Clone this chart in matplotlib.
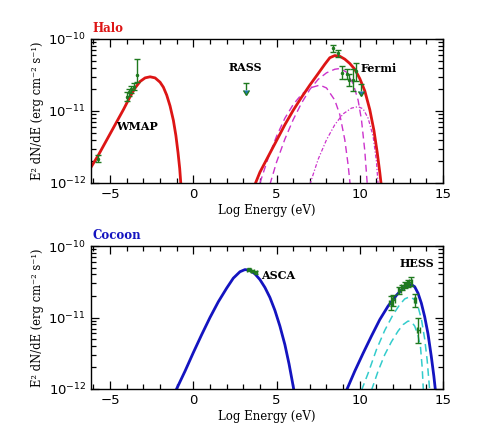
import numpy as np
import matplotlib
matplotlib.use("Agg")
import matplotlib.pyplot as plt
from matplotlib.ticker import MultipleLocator, FixedLocator, LogFormatterMathtext, NullFormatter

# ---------------- data (log10 of E^2 dN/dE) ----------------
# Halo: synchrotron model
halo_sync_x = [-6.2, -5.7, -5.2, -4.7, -4.2, -3.8, -3.5, -3.2, -2.9, -2.6, -2.3, -2.0,
               -1.8, -1.6, -1.4, -1.2, -1.05, -0.92, -0.82, -0.74]
halo_sync_logy = [-11.80, -11.61, -11.40, -11.19, -10.98, -10.80, -10.68, -10.59, -10.54,
                  -10.525, -10.54, -10.60, -10.67, -10.78, -10.93, -11.13, -11.34, -11.58,
                  -11.80, -12.05]
# Halo: inverse Compton total
halo_ic_x = [3.65, 4.0, 4.5, 5.0, 5.5, 6.0, 6.5, 7.0, 7.5, 7.9, 8.2, 8.5, 8.8, 9.1, 9.4,
             9.7, 10.0, 10.3, 10.6, 10.85, 11.05, 11.2, 11.3]
halo_ic_logy = [-12.05, -11.85, -11.63, -11.41, -11.19, -10.99, -10.81, -10.64, -10.48,
                -10.35, -10.26, -10.23, -10.24, -10.28, -10.34, -10.42, -10.55, -10.72,
                -10.98, -11.27, -11.58, -11.85, -12.05]
# Halo: IC components
halo_c1_x = [4.0, 4.5, 5.0, 5.5, 6.0, 6.5, 7.0, 7.6, 8.0, 8.5, 8.8, 9.1, 9.3, 9.42]
halo_c1_logy = [-12.0, -11.65, -11.35, -11.10, -10.91, -10.77, -10.68, -10.64, -10.68,
                -10.85, -11.05, -11.40, -11.75, -12.02]
halo_c2_x = [4.6, 5.0, 5.5, 6.0, 6.5, 7.0, 7.5, 8.0, 8.5, 8.8, 9.2, 9.6, 9.9, 10.1, 10.3, 10.45]
halo_c2_logy = [-12.02, -11.71, -11.39, -11.12, -10.89, -10.70, -10.56, -10.47, -10.42,
                -10.41, -10.46, -10.62, -10.85, -11.12, -11.55, -12.02]
halo_c3_x = [7.0, 7.5, 8.0, 8.5, 9.0, 9.5, 9.9, 10.2, 10.5, 10.8, 11.0, 11.1]
halo_c3_logy = [-12.02, -11.67, -11.40, -11.19, -11.04, -10.96, -10.94, -10.97, -11.10,
                -11.35, -11.70, -12.02]

# Halo data
wmap_x = [-5.74, -3.99, -3.85, -3.73, -3.59, -3.39]
wmap_logy = [-11.66, -10.80, -10.74, -10.70, -10.66, -10.50]
wmap_lo = [-11.71, -10.86, -10.79, -10.75, -10.71, -10.60]
wmap_hi = [-11.61, -10.74, -10.69, -10.65, -10.61, -10.28]
rass_x = [3.17]
rass_logy = [-10.61]
fermi_x = [8.41, 8.67, 8.95, 9.21, 9.37, 9.57, 9.80]
fermi_logy = [-10.13, -10.20, -10.47, -10.48, -10.57, -10.57, -10.45]
fermi_lo = [-10.18, -10.25, -10.56, -10.55, -10.65, -10.72, -10.59]
fermi_hi = [-10.08, -10.15, -10.38, -10.41, -10.49, -10.42, -10.34]
fermi_ul_x = [10.07]
fermi_ul_logy = [-10.63]

# Cocoon: synchrotron model
coc_sync_x = [-1.05, -0.5, 0.0, 0.5, 1.0, 1.5, 2.0, 2.4, 2.8, 3.1, 3.4, 3.7, 4.0, 4.3,
              4.6, 4.9, 5.2, 5.5, 5.75, 5.95, 6.05]
coc_sync_logy = [-12.02, -11.75, -11.49, -11.24, -11.00, -10.78, -10.59, -10.45, -10.36,
                 -10.33, -10.34, -10.39, -10.47, -10.58, -10.72, -10.90, -11.12, -11.38,
                 -11.65, -11.90, -12.03]
# Cocoon: IC total
coc_ic_x = [9.2, 9.7, 10.2, 10.7, 11.2, 11.7, 12.2, 12.6, 12.9, 13.1, 13.3, 13.5, 13.7,
            13.9, 14.1, 14.3, 14.45, 14.55]
coc_ic_logy = [-12.02, -11.75, -11.50, -11.26, -11.03, -10.84, -10.69, -10.59, -10.545,
               -10.54, -10.57, -10.66, -10.80, -10.99, -11.23, -11.55, -11.82, -12.03]
coc_c1_x = [10.1, 10.5, 11.0, 11.5, 12.0, 12.4, 12.7, 13.0, 13.3, 13.5, 13.7, 13.9, 14.05, 14.2]
coc_c1_logy = [-12.02, -11.78, -11.45, -11.18, -10.96, -10.82, -10.74, -10.71, -10.75,
               -10.85, -11.02, -11.30, -11.60, -12.02]
coc_c2_x = [10.7, 11.1, 11.5, 11.9, 12.3, 12.6, 12.9, 13.1, 13.3, 13.5, 13.65, 13.75, 13.82]
coc_c2_logy = [-12.02, -11.75, -11.52, -11.34, -11.19, -11.10, -11.05, -11.06, -11.12,
               -11.25, -11.42, -11.70, -12.02]

# Cocoon data
asca_x = [3.35, 3.55, 3.75]
asca_logy = [-10.33, -10.35, -10.37]
hess_x = [11.85, 12.02, 12.37, 12.55, 12.72, 12.90, 13.05, 13.31, 13.52]
hess_logy = [-10.80, -10.76, -10.62, -10.58, -10.55, -10.52, -10.50, -10.76, -11.18]
hess_err = [0.10, 0.08, 0.05, 0.04, 0.04, 0.05, 0.06, 0.09, 0.17]

# axis ticks
y_major = [1e-12, 1e-11, 1e-10]

# ---------------- style ----------------
RED = "#dd1515"
BLUE = "#1414c0"
MAG = "#cc33cc"
CYAN = "#33cccc"
GREEN = "#1f7a1f"
SERIF = ["DejaVu Serif"]

def p(v):
    return np.power(10.0, np.asarray(v, dtype=float))

y_minor = [m * d for d in y_major[:-1] for m in range(2, 10)]

fig = plt.figure(figsize=(4.78, 4.45), dpi=100)
ax1 = fig.add_axes([91/478, 1-183/445, (443-91)/478, (183-39)/445])
ax2 = fig.add_axes([91/478, 1-389/445, (443-91)/478, (389-246)/445])

def style(ax, title, tcolor):
    ax.set_yscale("log")
    ax.set_xlim(-6.15, 15)
    ax.set_ylim(1e-12, 1e-10)
    ax.xaxis.set_major_locator(FixedLocator([-5, 0, 5, 10, 15]))
    ax.xaxis.set_minor_locator(FixedLocator(list(range(-6, 16))))
    ax.yaxis.set_major_locator(FixedLocator(y_major))
    ax.yaxis.set_minor_locator(FixedLocator(y_minor))
    ax.yaxis.set_major_formatter(LogFormatterMathtext())
    ax.yaxis.set_minor_formatter(NullFormatter())
    ax.tick_params(which="both", direction="in", top=True, right=True, labelsize=9.5, width=0.9)
    ax.tick_params(which="major", length=6)
    ax.tick_params(which="minor", length=3.5)
    for s in ax.spines.values():
        s.set_linewidth(1.0)
    ax.set_xlabel("Log Energy (eV)", family=SERIF, fontsize=8.5, labelpad=2)
    ax.set_ylabel("E\u00b2 dN/dE (erg cm\u207b\u00b2 s\u207b\u00b9)", family=SERIF,
                  fontsize=8.3, labelpad=3)
    ax.text(0.005, 1.03, title, transform=ax.transAxes, color=tcolor, family=SERIF,
            fontsize=8.5, fontweight="bold", ha="left", va="bottom")

for ax, t, c in [(ax1, "Halo", RED), (ax2, "Cocoon", BLUE)]:
    style(ax, t, c)

# ---- Halo ----
ax1.plot(halo_sync_x, p(halo_sync_logy), color=RED, lw=2.0, solid_capstyle="butt")
ax1.plot(halo_c1_x, p(halo_c1_logy), color=MAG, lw=1.0, ls=(0, (5, 3)))
ax1.plot(halo_c2_x, p(halo_c2_logy), color=MAG, lw=1.0, ls=(0, (5, 3)))
ax1.plot(halo_c3_x, p(halo_c3_logy), color=MAG, lw=0.9, ls=(0, (3, 1.5, 1, 1.5)))
ax1.plot(halo_ic_x, p(halo_ic_logy), color=RED, lw=2.0, solid_capstyle="butt")

wy = p(wmap_logy)
ax1.errorbar(wmap_x, wy, yerr=[wy - p(wmap_lo), p(wmap_hi) - wy], fmt="none",
             ecolor=GREEN, elinewidth=1.0, capsize=2)
ax1.plot(wmap_x, wy, ls="none", marker="o", ms=1.5, color=GREEN)
fy = p(fermi_logy)
ax1.errorbar(fermi_x, fy, yerr=[fy - p(fermi_lo), p(fermi_hi) - fy], fmt="none",
             ecolor=GREEN, elinewidth=1.0, capsize=2)
ax1.plot(fermi_x, fy, ls="none", marker="o", ms=1.5, color=GREEN)
ry = p(rass_logy)
ax1.errorbar(rass_x, ry, yerr=ry * 0.2, uplims=True, fmt="none", ecolor=GREEN,
             elinewidth=1.0, capsize=2.5)
uy = p(fermi_ul_logy)
ax1.errorbar(fermi_ul_x, uy, yerr=uy * 0.2, uplims=True, fmt="none", ecolor=GREEN,
             elinewidth=1.0, capsize=2.5)

lbl = dict(family=SERIF, fontsize=8, fontweight="bold", ha="center", va="center")
ax1.text(-3.4, p(-11.21), "WMAP", **lbl)
ax1.text(3.1, p(-10.40), "RASS", **lbl)
ax1.text(11.15, p(-10.41), "Fermi", **lbl)

# ---- Cocoon ----
ax2.plot(coc_sync_x, p(coc_sync_logy), color=BLUE, lw=2.0)
ax2.plot(coc_c1_x, p(coc_c1_logy), color=CYAN, lw=1.1, ls=(0, (5, 3)))
ax2.plot(coc_c2_x, p(coc_c2_logy), color=CYAN, lw=1.1, ls=(0, (5, 3)))
ax2.plot(coc_ic_x, p(coc_ic_logy), color=BLUE, lw=2.0)

ay = p(asca_logy)
ax2.errorbar(asca_x, ay, xerr=0.1, yerr=ay * 0.04, fmt="none", ecolor=GREEN,
             elinewidth=1.2, capsize=1.5)
hy = p(hess_logy)
he = np.asarray(hess_err)
ax2.errorbar(hess_x, hy, xerr=0.08, yerr=[hy - p(np.asarray(hess_logy) - he),
             p(np.asarray(hess_logy) + he) - hy], fmt="none", ecolor=GREEN,
             elinewidth=1.0, capsize=2)

ax2.text(5.1, p(-10.41), "ASCA", **lbl)
ax2.text(13.45, p(-10.24), "HESS", **lbl)

fig.savefig("out.png", dpi=100)
